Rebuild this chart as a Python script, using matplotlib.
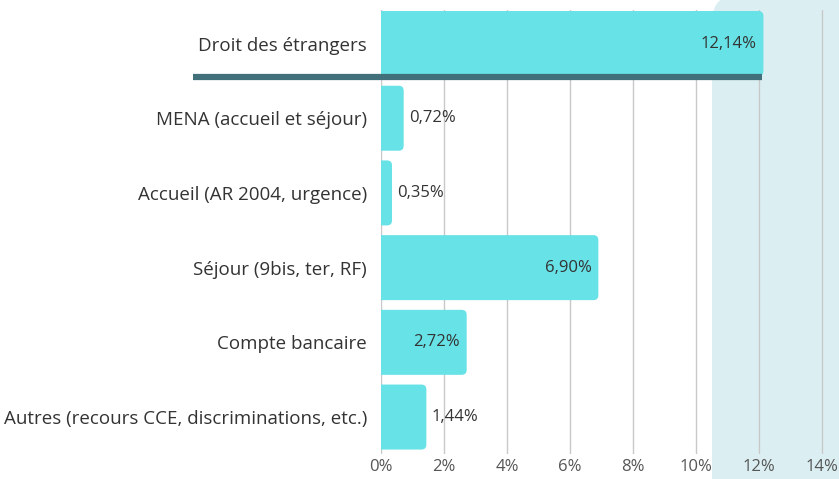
import matplotlib
matplotlib.use("Agg")
import matplotlib.pyplot as plt
from matplotlib.patches import FancyBboxPatch
from matplotlib.transforms import IdentityTransform
from matplotlib.ticker import FuncFormatter

categories = [
    "Droit des étrangers",
    "MENA (accueil et séjour)",
    "Accueil (AR 2004, urgence)",
    "Séjour (9bis, ter, RF)",
    "Compte bancaire",
    "Autres (recours CCE, discriminations, etc.)",
]
values = [12.14, 0.72, 0.35, 6.90, 2.72, 1.44]
inside = [True, False, False, True, True, False]
xticks = [0, 2, 4, 6, 8, 10, 12, 14]

plt.rcParams['font.family'] = ['Open Sans', 'DejaVu Sans']

W, H = 839, 479
fig = plt.figure(figsize=(W / 100, H / 100), dpi=100)
fig.patch.set_facecolor('white')

# shaded background panel on the right (pixel coords)
panel = FancyBboxPatch((712, -60), 400, H + 60 + 6,
                       boxstyle="round,pad=0,rounding_size=28",
                       transform=IdentityTransform(), facecolor='#dbeff3',
                       edgecolor='none', zorder=0)
fig.patches.append(panel)

ax = fig.add_axes([381 / W, 1 - 454.4 / H, 1 - 381 / W, (454.4 - 9.9) / H])
ax.set_facecolor('none')
ax.set_zorder(1)

ppx = 31.5   # pixels per percent
ppy = 74.7   # pixels per category
xmax = (W - 381) / ppx
ax.set_xlim(0, xmax)
ax.set_ylim(5.5, -0.45)

ypos = list(range(len(categories)))
bars = ax.barh(ypos, values, height=0.87, color='#67e2e7', zorder=2)
# replace by right-rounded bars (left rounding clipped by axes edge)
rx = 5 / ppx
for b in bars:
    x, y, w, h = b.get_x(), b.get_y(), b.get_width(), b.get_height()
    p = FancyBboxPatch((x - 0.5, y), w + 0.5, h,
                       boxstyle=f"round,pad=0,rounding_size={rx}",
                       mutation_aspect=(ppx / ppy),
                       facecolor=b.get_facecolor(), edgecolor='none', zorder=2)
    ax.add_patch(p)
    b.set_visible(False)

for y, v, ins in zip(ypos, values, inside):
    lab = f"{v:.2f}%".replace('.', ',')
    if ins:
        ax.annotate(lab, (v, y), xytext=(-5, 0), textcoords='offset points',
                    ha='right', va='center', fontsize=12, color='#333333', zorder=3)
    else:
        ax.annotate(lab, (v, y), xytext=(4, 0), textcoords='offset points',
                    ha='left', va='center', fontsize=12, color='#333333', zorder=3)

# dark separator line under the first bar
x0 = (193 - 381) / ppx
ax.plot([x0, 12.1], [0.45, 0.45], color='#41707a', lw=4.5,
        solid_capstyle='butt', clip_on=False, zorder=4)

ax.set_xticks(xticks)
ax.xaxis.set_major_formatter(FuncFormatter(lambda v, p: f"{int(v)}%"))
ax.set_yticks(ypos)
ax.set_yticklabels(categories)
ax.tick_params(axis='y', length=0, pad=10, labelsize=13.5, labelcolor='#333333')
ax.tick_params(axis='x', length=0, pad=3, labelsize=12, labelcolor='#555555')
ax.grid(axis='x', color='#c8c8c8', lw=1, zorder=1)
ax.set_axisbelow(True)
for s in ax.spines.values():
    s.set_visible(False)

fig.savefig("out.png", dpi=100)
